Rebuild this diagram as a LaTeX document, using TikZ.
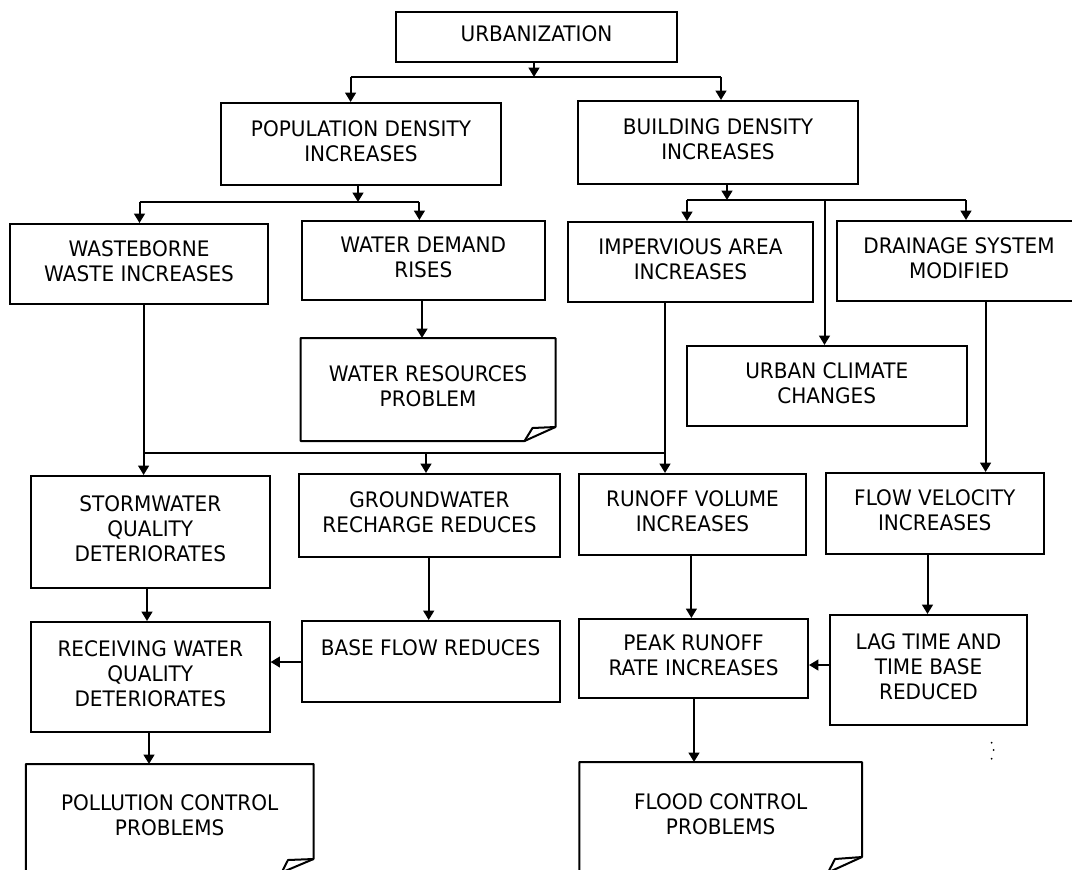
\documentclass[tikz,border=0pt]{standalone}
\usepackage{fontspec}
\setmainfont{DejaVu Sans}[FakeStretch=0.94]
\usetikzlibrary{arrows.meta,calc}
\begin{document}
\begin{tikzpicture}[x=0.75pt,y=-0.75pt,
  box/.style={draw, line width=1.5pt, inner sep=0pt, anchor=north west, align=center, font=\fontsize{16}{18.75}\selectfont, execute at end node={\rule[-4.5pt]{0pt}{0pt}}},
  sz/.style 2 args={minimum width=#1*0.75pt, minimum height=#2*0.75pt},
  docbox/.style={box, draw=none},
  link/.style={line width=1.5pt, -{Triangle[length=7pt,width=8pt]}},
  wire/.style={line width=1.5pt, line join=round},
]
\fill[white] (0,0) rectangle (1072,869);
\useasboundingbox (0,0) rectangle (1072,869);
\clip (0,0) rectangle (1072,869);

% boxes
\node[box, sz={281}{50}] (urb) at (395,11) {URBANIZATION};
\node[box, sz={280}{82}] (pop) at (220,102) {POPULATION DENSITY\\INCREASES};
\node[box, sz={280}{83}] (bld) at (577,100) {BUILDING DENSITY\\INCREASES};
\node[box, sz={258}{80}] (waste) at (9,223) {WASTEBORNE\\WASTE INCREASES};
\node[box, sz={243.4}{79}] (wd) at (300.6,220) {WATER DEMAND\\RISES};
\node[box, sz={245}{80}] (imp) at (567,221) {IMPERVIOUS AREA\\INCREASES};
\node[box, sz={244}{80}] (drain) at (836,220) {DRAINAGE SYSTEM\\MODIFIED};
\node[docbox, sz={252.9}{101}] (wr) at (300.6,338) {WATER RESOURCES\\PROBLEM};
\node[box, sz={280.5}{80}] (clim) at (685.5,345) {URBAN CLIMATE\\CHANGES};
\node[box, sz={238.6}{112}] (storm) at (30,475) {STORMWATER\\QUALITY\\DETERIORATES};
\node[box, sz={261}{83}] (gw) at (298,473) {GROUNDWATER\\RECHARGE REDUCES};
\node[box, sz={227}{81}] (run) at (578,473) {RUNOFF VOLUME\\INCREASES};
\node[box, sz={218.5}{81}] (flow) at (824.5,472) {FLOW VELOCITY\\INCREASES};
\node[box, sz={238.6}{110}] (recv) at (30,621) {RECEIVING WATER\\QUALITY\\DETERIORATES};
\node[box, sz={258.1}{81}] (base) at (300.6,620) {BASE FLOW REDUCES\\[-3pt]\mbox{}};
\node[box, sz={229}{79}] (peak) at (578,618) {PEAK RUNOFF\\RATE INCREASES};
\node[box, sz={197}{110}] (lag) at (829,614) {LAG TIME AND\\TIME BASE\\REDUCED};
\node[docbox, sz={285.8}{106.5}] (poll) at (25.8,764) {POLLUTION CONTROL\\PROBLEMS};
\node[docbox, sz={280.6}{108.5}] (flood) at (579.4,762) {FLOOD CONTROL\\PROBLEMS};

% document outlines with folded corner
\draw[wire] (wr.south west) -- (wr.north west) -- (wr.north east) -- ($(wr.south east)+(0,-14)$) -- ($(wr.south east)+(-23,-13)$) -- ($(wr.south east)+(-31,0)$) -- cycle;
\draw[wire] ($(wr.south east)+(0,-14)$) -- ($(wr.south east)+(-31,0)$);
\draw[wire] (poll.south west) -- (poll.north west) -- (poll.north east) -- ($(poll.south east)+(0,-13.5)$) -- ($(poll.south east)+(-25.6,-12.5)$) -- ($(poll.south east)+(-32,0)$) -- cycle;
\draw[wire] ($(poll.south east)+(0,-13.5)$) -- ($(poll.south east)+(-32,0)$);
\draw[wire] (flood.south west) -- (flood.north west) -- (flood.north east) -- ($(flood.south east)+(0,-15.5)$) -- ($(flood.south east)+(-27,-13.5)$) -- ($(flood.south east)+(-34,0)$) -- cycle;
\draw[wire] ($(flood.south east)+(0,-15.5)$) -- ($(flood.south east)+(-34,0)$);

% junction coordinates
\coordinate (j1) at (534,77);
\coordinate (j1l) at (350.6,77);
\coordinate (j1r) at (721,77);
\coordinate (j2) at (358,202);
\coordinate (j2l) at (139.5,202);
\coordinate (j2r) at (419.4,202);
\coordinate (j3) at (727,200);
\coordinate (j3l) at (687,200);
\coordinate (j3m) at (824.5,200);
\coordinate (j3r) at (966,200);
\coordinate (j4l) at (143.6,453);
\coordinate (j4m) at (426,453);
\coordinate (j4r) at (665,453);
\coordinate (c1) at (422,320);
\coordinate (c2) at (985.6,400);
\coordinate (c3) at (147,600);
\coordinate (c4) at (428.7,600);
\coordinate (c5) at (691.4,600);
\coordinate (c6) at (927.5,600);
\coordinate (c7) at (149,750);
\coordinate (c8) at (694,750);
\coordinate (c9) at (280,662);
\coordinate (c10) at (815,665);

% connectors
\draw[link] (urb.south -| j1) -- (j1);
\draw[wire] (j1l) -- (j1r);
\draw[link] (j1l) -- (j1l |- pop.north);
\draw[link] (j1r) -- (j1r |- bld.north);

\draw[link] (pop.south -| j2) -- (j2);
\draw[wire] (j2l) -- (j2r);
\draw[link] (j2l) -- (j2l |- waste.north);
\draw[link] (j2r) -- (j2r |- wd.north);

\draw[link] (bld.south -| j3) -- (j3);
\draw[wire] (j3l) -- (j3r);
\draw[link] (j3l) -- (j3l |- imp.north);
\draw[link] (j3r) -- (j3r |- drain.north);
\draw[link] (j3m) -- (j3m |- clim.north);

\draw[link] (wd.south -| c1) -- (wr.north -| c1);

\draw[link] (waste.south -| j4l) -- (storm.north -| j4l);
\draw[wire] (j4l) -- (j4r);
\draw[link] (imp.south -| j4r) -- (run.north -| j4r);
\draw[link] (j4m) -- (gw.north -| j4m);
\draw[link] (drain.south -| c2) -- (flow.north -| c2);

\draw[link] (storm.south -| c3) -- (recv.north -| c3);
\draw[link] (gw.south -| c4) -- (base.north -| c4);
\draw[link] (run.south -| c5) -- (peak.north -| c5);
\draw[link] (flow.south -| c6) -- (lag.north -| c6);
\draw[link] (recv.south -| c7) -- (poll.north -| c7);
\draw[link] (peak.south -| c8) -- (flood.north -| c8);

\draw[link] (base.west |- c9) -- (recv.east |- c9);
\draw[link] (lag.west |- c10) -- (peak.east |- c10);

% small specks
\fill (991.7,742.7) circle (1);
\fill (993.7,750) circle (1);
\fill (991.7,758.7) circle (1);
\end{tikzpicture}
\end{document}
